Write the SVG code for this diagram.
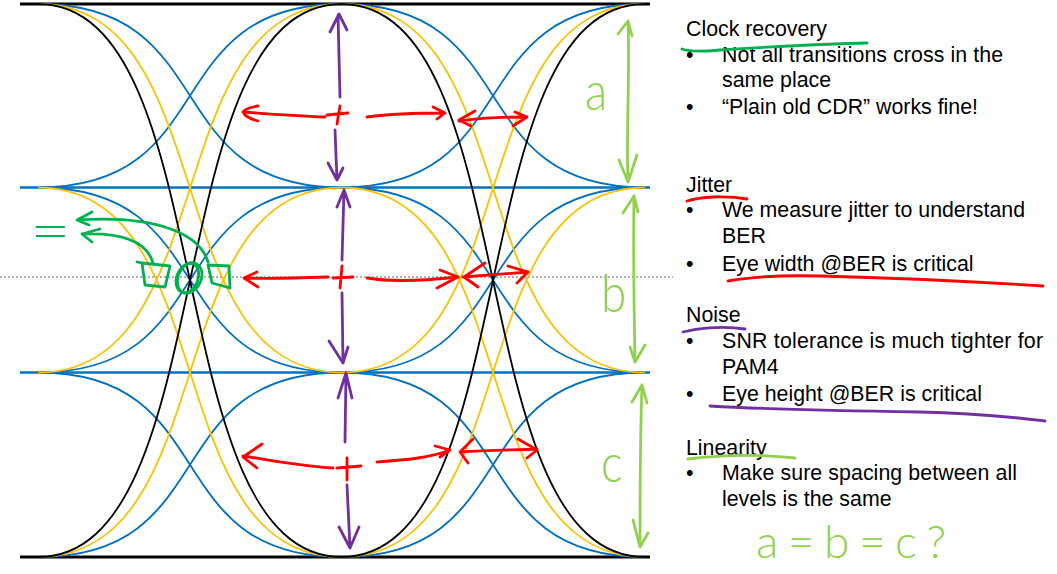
<svg xmlns="http://www.w3.org/2000/svg" width="1057" height="574" viewBox="0 0 1057 574">
<style>
.bl{fill:none;stroke:#0070C0;stroke-width:1.8}
.ye{fill:none;stroke:#FFC000;stroke-width:1.8}
.bk{fill:none;stroke:#000;stroke-width:1.8}
.hw{fill:none;stroke-linecap:round;stroke-linejoin:round;stroke-width:2.8}
.pu{stroke:#7030A0}
.rd{stroke:#FF0000}
.lg{stroke:#92D050}
.dg{stroke:#00B050}
.t{font-family:"Liberation Sans",Arial,sans-serif;font-size:21.33px;fill:#000}
.hand{font-family:Lato,Roboto,"Open Sans","Liberation Sans",sans-serif;font-weight:300;fill:#92D050}
</style>
<rect width="1057" height="574" fill="#fff"/>
<g id="levels">
<line x1="20" y1="4" x2="650" y2="4" stroke="#000" stroke-width="3"/>
<line x1="20" y1="187.5" x2="650" y2="187.5" stroke="#0070C0" stroke-width="2.5"/>
<line x1="20" y1="372.5" x2="650" y2="372.5" stroke="#0070C0" stroke-width="2.5"/>
<line x1="20" y1="557" x2="650" y2="557" stroke="#000" stroke-width="3"/>
<line x1="0" y1="277" x2="673" y2="277" stroke="#999" stroke-width="1.5" stroke-dasharray="2,2"/>
</g>
<g id="transitions">
<path class="bl" d="M38,4 C223.4,4 156.6,187.5 342,187.5"/>
<path class="bl" d="M38,187.5 C223.4,187.5 156.6,4 342,4"/>
<path class="bl" d="M38,187.5 C223.4,187.5 156.6,372.5 342,372.5"/>
<path class="bl" d="M38,372.5 C223.4,372.5 156.6,187.5 342,187.5"/>
<path class="bl" d="M38,372.5 C223.4,372.5 156.6,557 342,557"/>
<path class="bl" d="M38,557 C223.4,557 156.6,372.5 342,372.5"/>
<path class="ye" d="M38,4 C223.4,4 156.6,372.5 342,372.5"/>
<path class="ye" d="M38,372.5 C223.4,372.5 156.6,4 342,4"/>
<path class="ye" d="M38,187.5 C223.4,187.5 156.6,557 342,557"/>
<path class="ye" d="M38,557 C223.4,557 156.6,187.5 342,187.5"/>
<path class="bk" d="M38,4 C223.4,4 156.6,557 342,557"/>
<path class="bk" d="M38,557 C223.4,557 156.6,4 342,4"/>
<path class="bl" d="M341,4 C526.4,4 459.6,187.5 645,187.5"/>
<path class="bl" d="M341,187.5 C526.4,187.5 459.6,4 645,4"/>
<path class="bl" d="M341,187.5 C526.4,187.5 459.6,372.5 645,372.5"/>
<path class="bl" d="M341,372.5 C526.4,372.5 459.6,187.5 645,187.5"/>
<path class="bl" d="M341,372.5 C526.4,372.5 459.6,557 645,557"/>
<path class="bl" d="M341,557 C526.4,557 459.6,372.5 645,372.5"/>
<path class="ye" d="M341,4 C526.4,4 459.6,372.5 645,372.5"/>
<path class="ye" d="M341,372.5 C526.4,372.5 459.6,4 645,4"/>
<path class="ye" d="M341,187.5 C526.4,187.5 459.6,557 645,557"/>
<path class="ye" d="M341,557 C526.4,557 459.6,187.5 645,187.5"/>
<path class="bk" d="M341,4 C526.4,4 459.6,557 645,557"/>
<path class="bk" d="M341,557 C526.4,557 459.6,4 645,4"/>
</g>
<g id="eye-height-arrows" class="hw pu">
<path d="M340,97 L338,15 M330,32 L339,14 L347,30"/>
<path d="M335,130 L337,180 M328,163 L337,180 L343,168"/>
<path d="M342,260 L344,190 M337,207 L344,190 L350,207"/>
<path d="M342,293 L343,363 M329,341 L343,363 L348,347"/>
<path d="M345,442 L346,373 M338,398 L346,373 L352,398"/>
<path d="M347,485 L350,548 M339,527 L350,548 L359,527"/>
</g>
<g id="eye-width-arrows" class="hw rd">
<path d="M327,115 L348,113 M340,106 L337,124"/>
<path d="M325,117 C300,116 270,114 243,112 M258,106 Q245,108 243,112 Q246,118 258,121"/>
<path d="M367,117 C390,114 420,113 445,113 M433,107 L445,113 L437,119"/>
<path d="M459,121 C480,118 505,117 527,117 M475,111 L459,120 L471,126 M515,112 L527,117 L513,126"/>
<path d="M333,278 L353,277 M342,266 L340,288"/>
<path d="M328,277 C300,278 270,279 245,278 M257,272 L244,278 L258,287"/>
<path d="M367,278 C395,283 430,280 458,277 M440,270 L458,277 L437,288"/>
<path d="M463,277 L528,272 M485,263 L464,277 L478,287 M508,266 L528,272 L517,283"/>
<path d="M337,468 L361,466 M347,458 L347,480"/>
<path d="M333,468 C300,466 270,460 243,456 M262,444 L243,457 L257,468"/>
<path d="M377,462 C405,460 430,458 450,450 M435,446 L450,450 L440,457"/>
<path d="M460,452 C490,450 515,450 537,449 M473,439 L460,452 L468,463 M518,439 L537,450 L527,458"/>
</g>
<g id="level-spacing" class="hw lg">
<path d="M628,21 C630,80 626,130 628,182 M618,34 L628,21 L632,36 M619,160 L628,182 L637,155"/>
<path d="M634,196 C633,260 634,300 635,362 M623,213 L634,196 L638,212 M630,347 L635,362 L645,345"/>
<path d="M642,385 C640,440 640,500 640,547 M632,402 L642,385 L647,403 M633,520 L640,547 L648,533"/>
</g>
<g id="level-labels">
<text class="hand" x="585" y="110" font-size="54" transform="translate(585 0) scale(0.85 1) translate(-585 0)">a</text>
<text class="hand" x="601" y="312" font-size="54" transform="translate(601 0) scale(0.85 1) translate(-601 0)">b</text>
<text class="hand" x="601" y="482" font-size="54" transform="translate(601 0) scale(0.85 1) translate(-601 0)">c</text>
<text class="hand" x="756" y="558" font-size="46" textLength="190" lengthAdjust="spacing">a=b=c?</text>
</g>
<g id="crossing-annotation" class="hw dg">
<path d="M208,262 C200,235 160,215 78,220 M92,212 L77,220 L89,225"/>
<path d="M153,263 C148,245 130,232 82,234 M100,229 L82,234 L92,242"/>
<path d="M137,262 L142,263 L145,285 L165,287 L170,266 L142,263"/>
<path d="M208,265 L229,266 L230,288 L212,283 L208,265"/>
<ellipse cx="188" cy="278" rx="10" ry="15" transform="rotate(20 188 278)"/>
<ellipse cx="189" cy="278" rx="12" ry="16" transform="rotate(28 189 278)"/>
</g>
<text class="hand" x="30" y="250" font-size="56" style="fill:#00B050" transform="translate(30 0) scale(1.25 1) translate(-30 0)">=</text>
<g id="notes" class="t">
<text x="686" y="36">Clock recovery</text>
<text x="686" y="62">•</text>
<text x="722" y="62" textLength="281" lengthAdjust="spacing">Not all transitions cross in the</text>
<text x="722" y="87">same place</text>
<text x="686" y="114">•</text>
<text x="722" y="114">“Plain old CDR” works fine!</text>
<text x="686" y="192">Jitter</text>
<text x="686" y="217">•</text>
<text x="722" y="217" textLength="303" lengthAdjust="spacing">We measure jitter to understand</text>
<text x="722" y="243">BER</text>
<text x="686" y="271">•</text>
<text x="722" y="271">Eye width @BER is critical</text>
<text x="686" y="322">Noise</text>
<text x="686" y="348">•</text>
<text x="722" y="348" textLength="321" lengthAdjust="spacing">SNR tolerance is much tighter for</text>
<text x="722" y="374">PAM4</text>
<text x="686" y="401">•</text>
<text x="722" y="401">Eye height @BER is critical</text>
<text x="686" y="455">Linearity</text>
<text x="686" y="480">•</text>
<text x="722" y="480" textLength="295" lengthAdjust="spacing">Make sure spacing between all</text>
<text x="722" y="506">levels is the same</text>
</g>
<g id="underlines" class="hw">
<path class="dg" d="M682,49 C690,52 700,52 720,50 C780,46 830,44 867,43"/>
<path class="rd" d="M687,201 C700,197 725,195 747,199"/>
<path class="rd" d="M728,281 C750,277 780,275 820,276 C900,278 980,282 1043,286"/>
<path class="pu" d="M683,332 C695,329 720,325 745,329"/>
<path class="pu" d="M710,406 C760,409 850,411 920,412 C980,413 1020,418 1045,421"/>
<path class="lg" d="M688,459 C720,455 760,454 795,458"/>
</g>
</svg>
